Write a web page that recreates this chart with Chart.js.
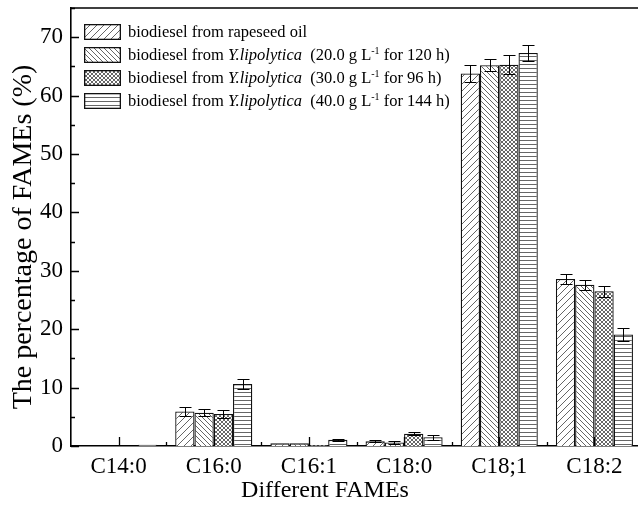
<!DOCTYPE html>
<html>
<head>
<meta charset="utf-8">
<script src="https://cdn.jsdelivr.net/npm/chart.js@4.4.1/dist/chart.umd.min.js"></script>
<style>
  html, body { margin: 0; padding: 0; background: #fff; overflow: hidden; }
  #wrap { position: relative; width: 638px; height: 505px; overflow: hidden; }
  #c { display: block; }
  #legend { position: absolute; left: 84px; top: 20px; font-family: 'Liberation Serif', 'Times New Roman', serif; font-size: 16.5px; color: #000; }
  .row { display: flex; align-items: center; height: 23px; white-space: pre; }
  .row canvas { margin-right: 7px; display: block; }
  sup { font-size: 10px; vertical-align: super; line-height: 0; }
</style>
</head>
<body>
<div id="wrap">
  <canvas id="c" width="660" height="505"></canvas>
  <div id="legend"></div>
</div>
<script>
// ---- data ----
const categories = ['C14:0', 'C16:0', 'C16:1', 'C18:0', 'C18;1', 'C18:2'];
const rapeseed   = [0,   5.9, 0.45, 0.8, 63.8, 28.6];
const yl20       = [0,   5.7, 0.45, 0.6, 65.2, 27.6];
const yl30       = [0,   5.5, 0.15, 2.1, 65.3, 26.5];
const yl40       = [0.2, 10.6, 1.05, 1.5, 67.3, 19.1];
const errRapeseed = [0, 0.8, 0,    0.15, 1.5, 0.85];
const errYl20     = [0, 0.6, 0,    0.25, 1.0, 0.85];
const errYl30     = [0, 0.7, 0,    0.3,  1.6, 0.95];
const errYl40     = [0, 0.8, 0.12, 0.45, 1.4, 1.1];
const seriesLabels = [
  'biodiesel from rapeseed oil',
  'biodiesel from Y.lipolytica  (20.0 g L-1 for 120 h)',
  'biodiesel from Y.lipolytica  (30.0 g L-1 for 96 h)',
  'biodiesel from Y.lipolytica  (40.0 g L-1 for 144 h)'
];
const legendHtml = [
  'biodiesel from rapeseed oil',
  'biodiesel from <i>Y.lipolytica</i>  (20.0 g L<sup>-1</sup> for 120 h)',
  'biodiesel from <i>Y.lipolytica</i>  (30.0 g L<sup>-1</sup> for 96 h)',
  'biodiesel from <i>Y.lipolytica</i>  (40.0 g L<sup>-1</sup> for 144 h)'
];
const yMin = 0, yMax = 75;
const xTitle = 'Different FAMEs';
const yTitle = 'The percentage of FAMEs (%)';

const errors = [errRapeseed, errYl20, errYl30, errYl40];
const FONT = "'Liberation Serif', 'Times New Roman', serif";

function drawHatch(ctx, type, w, h) {
  ctx.fillStyle = '#fff';
  ctx.fillRect(0, 0, w, h);
  ctx.strokeStyle = '#555';
  ctx.lineWidth = 0.9;
  ctx.beginPath();
  if (type === 'fwd') {
    const s = 7;
    for (let k = -h; k < w + h; k += s) { ctx.moveTo(k, h); ctx.lineTo(k + h, 0); }
  } else if (type === 'back') {
    const s = 5;
    for (let k = -h; k < w + h; k += s) { ctx.moveTo(k, 0); ctx.lineTo(k + h, h); }
  } else if (type === 'cross') {
    const s = 4;
    for (let k = -h; k < w + h; k += s) { ctx.moveTo(k, h); ctx.lineTo(k + h, 0); ctx.moveTo(k, 0); ctx.lineTo(k + h, h); }
  } else if (type === 'horiz') {
    for (let y = 0.5; y < h; y += 4) { ctx.moveTo(0, y); ctx.lineTo(w, y); }
  }
  ctx.stroke();
}
function makePattern(type) {
  const size = type === 'fwd' ? 7 : type === 'back' ? 5 : 4;
  const c = document.createElement('canvas');
  c.width = size; c.height = size;
  const g = c.getContext('2d');
  g.fillStyle = '#fff'; g.fillRect(0, 0, size, size);
  g.strokeStyle = '#555'; g.lineWidth = 0.9;
  g.beginPath();
  if (type === 'fwd' || type === 'cross') {
    g.moveTo(-1, size + 1); g.lineTo(size + 1, -1);
    g.moveTo(-1, 1); g.lineTo(1, -1);
    g.moveTo(size - 1, size + 1); g.lineTo(size + 1, size - 1);
  }
  if (type === 'back' || type === 'cross') {
    g.moveTo(-1, -1); g.lineTo(size + 1, size + 1);
    g.moveTo(size - 1, -1); g.lineTo(size + 1, 1);
    g.moveTo(-1, size - 1); g.lineTo(1, size + 1);
  }
  if (type === 'horiz') { g.moveTo(0, 0.5); g.lineTo(size, 0.5); }
  g.stroke();
  return g.createPattern(c, 'repeat');
}
const hatchTypes = ['fwd', 'back', 'cross', 'horiz'];
const seriesData = [rapeseed, yl20, yl30, yl40];

const decorPlugin = {
  id: 'decor',
  afterDatasetsDraw(chart) {
    const ctx = chart.ctx, y = chart.scales.y;
    ctx.save();
    ctx.strokeStyle = '#000';
    ctx.lineWidth = 1;
    chart.data.datasets.forEach((ds, i) => {
      const meta = chart.getDatasetMeta(i);
      meta.data.forEach((bar, j) => {
        const e = errors[i][j];
        if (!e) return;
        const v = ds.data[j];
        const yt = Math.round(y.getPixelForValue(v + e)) + 0.5;
        const yb = Math.round(y.getPixelForValue(v - e)) + 0.5;
        const x = Math.round(bar.x) + 0.5;
        ctx.beginPath();
        ctx.moveTo(x, yt); ctx.lineTo(x, yb);
        ctx.moveTo(x - 6, yt); ctx.lineTo(x + 6, yt);
        ctx.moveTo(x - 6, yb); ctx.lineTo(x + 6, yb);
        ctx.stroke();
      });
    });
    ctx.restore();
  },
  afterDraw(chart) {
    const ctx = chart.ctx, x = chart.scales.x, y = chart.scales.y, a = chart.chartArea;
    ctx.save();
    ctx.strokeStyle = '#000';
    ctx.lineWidth = 1.3;
    ctx.beginPath();
    for (let v = yMin; v <= yMax; v += 5) {
      const py = Math.round(y.getPixelForValue(v)) + 0.5;
      const len = v % 10 === 0 ? 8 : 4;
      ctx.moveTo(a.left, py); ctx.lineTo(a.left + len, py);
    }
    for (let j = 0; j < categories.length; j++) {
      const px = Math.round(x.getPixelForValue(j)) + 0.5;
      ctx.moveTo(px, a.bottom); ctx.lineTo(px, a.bottom - 9);
      const pb = Math.round(x.getPixelForValue(j - 0.5)) + 0.5;
      if (j > 0) { ctx.moveTo(pb, a.bottom); ctx.lineTo(pb, a.bottom - 4); }
    }
    ctx.stroke();
    ctx.lineWidth = 1.6;
    ctx.beginPath();
    ctx.moveTo(a.left, a.top); ctx.lineTo(a.right + 20, a.top);
    ctx.moveTo(a.right, a.top); ctx.lineTo(a.right, a.bottom);
    ctx.stroke();
    ctx.fillStyle = '#000';
    ctx.textBaseline = 'alphabetic';
    ctx.textAlign = 'center';
    ctx.font = '24px ' + FONT;
    ctx.fillText(xTitle, 325, 497);
    ctx.save();
    ctx.translate(31, 237);
    ctx.rotate(-Math.PI / 2);
    ctx.font = '28px ' + FONT;
    ctx.fillText(yTitle, 0, 0);
    ctx.restore();
    ctx.restore();
  }
};

new Chart(document.getElementById('c'), {
  type: 'bar',
  data: {
    labels: categories,
    datasets: seriesData.map((d, i) => ({
      label: seriesLabels[i],
      data: d,
      backgroundColor: makePattern(hatchTypes[i]),
      borderColor: '#111',
      borderWidth: 1.3,
      categoryPercentage: 0.81,
      barPercentage: 1.0
    }))
  },
  options: {
    responsive: false,
    animation: false,
    devicePixelRatio: 1,
    layout: { padding: { top: 8, right: 18, left: 0, bottom: 0 } },
    plugins: { legend: { display: false }, tooltip: { enabled: false } },
    scales: {
      x: {
        grid: { display: false, drawTicks: false },
        border: { display: true, color: '#000', width: 1.6 },
        ticks: { color: '#000', font: { family: FONT, size: 23 }, padding: 7, maxRotation: 0 },
        afterFit: s => { s.height = 59; s.paddingLeft = 0; s.paddingRight = 0; }
      },
      y: {
        min: yMin, max: yMax,
        grid: { display: false, drawTicks: false },
        border: { display: true, color: '#000', width: 1.6 },
        ticks: {
          stepSize: 5, color: '#000', font: { family: FONT, size: 23 }, padding: 8,
          callback: v => (v % 10 === 0 ? String(v) : '')
        },
        afterFit: s => { s.width = 71; s.paddingTop = 0; s.paddingBottom = 0; }
      }
    }
  },
  plugins: [decorPlugin]
});

const leg = document.getElementById('legend');
legendHtml.forEach((html, i) => {
  const row = document.createElement('div');
  row.className = 'row';
  const sw = document.createElement('canvas');
  sw.width = 37; sw.height = 16;
  const g = sw.getContext('2d');
  drawHatch(g, hatchTypes[i], 37, 16);
  g.strokeStyle = '#111'; g.lineWidth = 1.3;
  g.strokeRect(0.65, 0.65, 35.7, 14.7);
  row.appendChild(sw);
  const span = document.createElement('span');
  span.innerHTML = html;
  row.appendChild(span);
  leg.appendChild(row);
});
</script>
</body>
</html>
